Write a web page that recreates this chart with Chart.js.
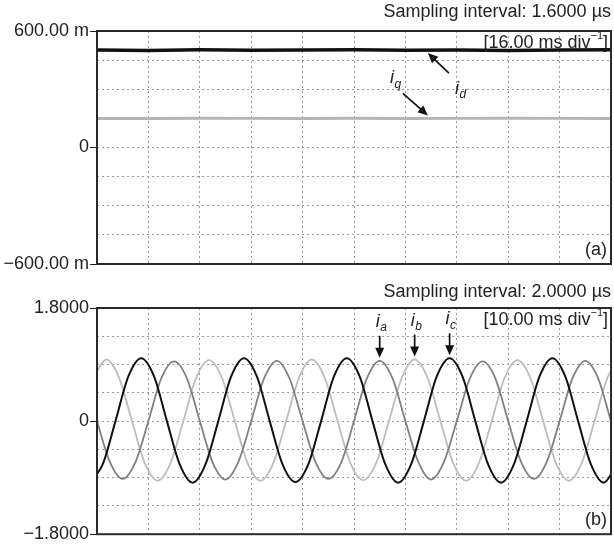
<!DOCTYPE html>
<html>
<head>
<meta charset="utf-8">
<script src="https://cdn.jsdelivr.net/npm/chart.js@4/dist/chart.umd.min.js"></script>
<style>
  html, body { margin: 0; padding: 0; background: #fff; overflow: hidden; }
  canvas { display: block; }
  #abcChart { margin-top: -10px; }
</style>
</head>
<body>
<canvas id="dqChart" width="614" height="280"></canvas>
<canvas id="abcChart" width="614" height="276"></canvas>
<script>
// (a) d-q currents, in milli units, sampled once per division (16 ms)
const dqTimes = [0, 16, 32, 48, 64, 80, 96, 112, 128, 144, 160];
const idValues = [502, 500, 503, 501, 502, 503, 501, 502, 500, 502, 503];
const iqValues = [150, 149, 151, 150, 150, 151, 149, 150, 151, 150, 149];
const dqTickLabels = { "600": "600.00 m", "0": "0", "-600": "\u2212600.00 m" };

// (b) phase currents, peaks / crossings / half points (ms)
const iaTimes = [-5, -2.5, 0, 2.5, 5, 7.5, 10, 12.5, 15, 17.5, 20, 22.5, 25, 27.5, 30, 32.5,
  35, 37.5, 40, 42.5, 45, 47.5, 50, 52.5, 55, 57.5, 60, 62.5, 65, 67.5, 70, 72.5,
  75, 77.5, 80, 82.5, 85, 87.5, 90, 92.5, 95, 97.5, 100, 102.5];
const iaValues = [0.96, 0.68, 0, -0.65, -0.92, -0.65, 0, 0.68, 0.95, 0.68, 0, -0.66, -0.93, -0.65, 0, 0.68,
  0.96, 0.67, 0, -0.65, -0.92, -0.66, 0, 0.68, 0.96, 0.68, 0, -0.65, -0.93, -0.65, 0, 0.67,
  0.95, 0.68, 0, -0.65, -0.92, -0.65, 0, 0.68, 0.96, 0.68, 0, -0.65];

const ibTimes = [-0.7, 1.8, 4.3, 6.8, 9.3, 11.8, 14.3, 16.8, 19.3, 21.8, 24.3, 26.8, 29.3, 31.8,
  34.3, 36.8, 39.3, 41.8, 44.3, 46.8, 49.3, 51.8, 54.3, 56.8, 59.3, 61.8, 64.3, 66.8,
  69.3, 71.8, 74.3, 76.8, 79.3, 81.8, 84.3, 86.8, 89.3, 91.8, 94.3, 96.8, 99.3, 101.8];
const ibValues = [0.69, 0.98, 0.69, 0, -0.67, -0.95, -0.67, 0, 0.69, 0.97, 0.69, 0, -0.67, -0.95,
  -0.67, 0, 0.69, 0.98, 0.69, 0, -0.67, -0.94, -0.67, 0, 0.69, 0.98, 0.69, 0,
  -0.67, -0.95, -0.67, 0, 0.69, 0.97, 0.69, 0, -0.67, -0.95, -0.67, 0, 0.69, 0.98];

const icTimes = [-1.4, 1.1, 3.6, 6.1, 8.6, 11.1, 13.6, 16.1, 18.6, 21.1, 23.6, 26.1, 28.6, 31.1,
  33.6, 36.1, 38.6, 41.1, 43.6, 46.1, 48.6, 51.1, 53.6, 56.1, 58.6, 61.1, 63.6, 66.1,
  68.6, 71.1, 73.6, 76.1, 78.6, 81.1, 83.6, 86.1, 88.6, 91.1, 93.6, 96.1, 98.6, 101.1];
const icValues = [-0.98, -0.69, 0, 0.71, 1.0, 0.71, 0, -0.69, -0.98, -0.69, 0, 0.71, 1.0, 0.71,
  0, -0.69, -0.97, -0.69, 0, 0.71, 1.0, 0.71, 0, -0.69, -0.98, -0.69, 0, 0.71,
  1.0, 0.71, 0, -0.69, -0.98, -0.69, 0, 0.71, 1.0, 0.71, 0, -0.69, -0.98, -0.69];
const abcTickLabels = { "1.8": "1.8000", "0": "0", "-1.8": "\u22121.8000" };

const FONT = '"Liberation Sans", Arial, sans-serif';
Chart.defaults.font.family = FONT;
Chart.defaults.font.size = 18;
Chart.defaults.color = "#222";

function pairs(xs, ys) {
  return xs.map((x, i) => ({ x: x, y: ys[i] }));
}

function drawArrow(ctx, x1, y1, x2, y2) {
  const ang = Math.atan2(y2 - y1, x2 - x1);
  const len = 10, half = 4.5;
  ctx.strokeStyle = "#111";
  ctx.fillStyle = "#111";
  ctx.lineWidth = 1.7;
  ctx.beginPath();
  ctx.moveTo(x1, y1);
  ctx.lineTo(x2 - Math.cos(ang) * len * 0.8, y2 - Math.sin(ang) * len * 0.8);
  ctx.stroke();
  ctx.beginPath();
  ctx.moveTo(x2, y2);
  ctx.lineTo(x2 - Math.cos(ang) * len - Math.sin(ang) * half, y2 - Math.sin(ang) * len + Math.cos(ang) * half);
  ctx.lineTo(x2 - Math.cos(ang) * len + Math.sin(ang) * half, y2 - Math.sin(ang) * len - Math.cos(ang) * half);
  ctx.closePath();
  ctx.fill();
}

function drawSubLabel(ctx, x, y, sub) {
  ctx.fillStyle = "#222";
  ctx.textAlign = "left";
  ctx.textBaseline = "middle";
  ctx.font = "italic 18px " + FONT;
  ctx.fillText("i", x, y);
  ctx.font = "italic 12px " + FONT;
  ctx.fillText(sub, x + 4.5, y + 6);
}

function drawDivLabel(ctx, right, y, text) {
  const main = "[" + text + " div";
  const sup = "\u22121";
  ctx.textBaseline = "middle";
  ctx.textAlign = "left";
  ctx.font = "18px " + FONT;
  const w1 = ctx.measureText(main).width;
  const w3 = ctx.measureText("]").width;
  ctx.font = "11px " + FONT;
  const w2 = ctx.measureText(sup).width;
  let x = right - w1 - w2 - w3;
  ctx.fillStyle = "#222";
  ctx.font = "18px " + FONT;
  ctx.fillText(main, x, y);
  ctx.font = "11px " + FONT;
  ctx.fillText(sup, x + w1, y - 7);
  ctx.font = "18px " + FONT;
  ctx.fillText("]", x + w1 + w2, y);
}

// draws frame, captions and the pointer arrows
function overlay(cfg) {
  return {
    id: "overlay",
    afterDatasetsDraw(chart) {
      const ctx = chart.ctx;
      const a = chart.chartArea;
      const xs = chart.scales.x, ys = chart.scales.y;
      ctx.save();
      ctx.strokeStyle = "#2a2a2a";
      ctx.lineWidth = 2;
      ctx.strokeRect(a.left, a.top, a.right - a.left, a.bottom - a.top);

      ctx.fillStyle = "#222";
      ctx.font = "18px " + FONT;
      ctx.textAlign = "right";
      ctx.textBaseline = "middle";
      ctx.fillText(cfg.title, a.right, cfg.titleY);
      drawDivLabel(ctx, a.right - 3, a.top + cfg.divDy, cfg.div);
      ctx.font = "18px " + FONT;
      ctx.textAlign = "right";
      ctx.fillStyle = "#222";
      ctx.fillText(cfg.panel, a.right - 4, a.bottom - 14);

      cfg.marks.forEach(m => {
        const tx = xs.getPixelForValue(m.x);
        const ty = ys.getPixelForValue(m.y) + m.gap;
        drawArrow(ctx, tx + m.tail[0], ty + m.tail[1], tx, ty);
        drawSubLabel(ctx, tx + m.label[0], ty + m.label[1], m.sub);
      });
      ctx.restore();
    }
  };
}

function scalesFor(xMax, xStep, yMin, yMax, yStep, labels) {
  const key = v => String(Math.round(v * 1000) / 1000);
  return {
    x: {
      type: "linear", min: 0, max: xMax,
      ticks: { display: false, stepSize: xStep },
      grid: { color: "#9a9a9a", lineWidth: 1, drawTicks: false },
      border: { display: false, dash: [2, 3] },
      afterFit(s) { s.height = 0; }
    },
    y: {
      min: yMin, max: yMax,
      ticks: {
        stepSize: yStep, padding: 1, autoSkip: false,
        callback: v => labels[key(v)] || ""
      },
      grid: {
        color: "#9a9a9a", lineWidth: 1, tickLength: 7,
        tickColor: c => labels[key(c.tick.value)] ? "#222" : "rgba(0,0,0,0)"
      },
      border: { display: false, dash: [2, 3] },
      afterFit(s) { s.width = 97; }
    }
  };
}

const baseOpts = {
  responsive: false,
  animation: false,
  devicePixelRatio: 1,
  events: [],
  plugins: { legend: { display: false }, tooltip: { enabled: false } },
  elements: { point: { radius: 0 } }
};

new Chart(document.getElementById("dqChart"), {
  type: "line",
  data: {
    datasets: [
      { data: pairs(dqTimes, idValues), borderColor: "#111", borderWidth: 3.5 },
      { data: pairs(dqTimes, iqValues), borderColor: "#b5b5b5", borderWidth: 3 }
    ]
  },
  options: Object.assign({}, baseOpts, {
    layout: { autoPadding: false, padding: { top: 31, bottom: 16, left: 0, right: 3 } },
    scales: scalesFor(160, 16, -600, 600, 150, dqTickLabels)
  }),
  plugins: [overlay({
    title: "Sampling interval: 1.6000 \u00b5s", titleY: 12,
    div: "16.00 ms", divDy: 12, panel: "(a)",
    marks: [
      { x: 103, y: 502, gap: 3, tail: [21, 20], label: [27, 36], sub: "d" },
      { x: 103, y: 150, gap: -3, tail: [-25, -22], label: [-38, -37], sub: "q" }
    ]
  })]
});

new Chart(document.getElementById("abcChart"), {
  type: "line",
  data: {
    datasets: [
      { data: pairs(icTimes, icValues), borderColor: "#111", borderWidth: 2, cubicInterpolationMode: "monotone" },
      { data: pairs(iaTimes, iaValues), borderColor: "#808080", borderWidth: 1.8, cubicInterpolationMode: "monotone" },
      { data: pairs(ibTimes, ibValues), borderColor: "#bdbdbd", borderWidth: 1.8, cubicInterpolationMode: "monotone" }
    ]
  },
  options: Object.assign({}, baseOpts, {
    layout: { autoPadding: false, padding: { top: 38, bottom: 8, left: 0, right: 3 } },
    scales: scalesFor(100, 10, -1.8, 1.8, 0.45, abcTickLabels)
  }),
  plugins: [overlay({
    title: "Sampling interval: 2.0000 \u00b5s", titleY: 22,
    div: "10.00 ms", divDy: 12, panel: "(b)",
    marks: [
      { x: 55, y: 0.96, gap: -3, tail: [0, -22], label: [-4, -36], sub: "a" },
      { x: 61.8, y: 0.98, gap: -3, tail: [0, -22], label: [-4, -36], sub: "b" },
      { x: 68.6, y: 1.0, gap: -3, tail: [0, -22], label: [-4, -36], sub: "c" }
    ]
  })]
});
</script>
</body>
</html>
